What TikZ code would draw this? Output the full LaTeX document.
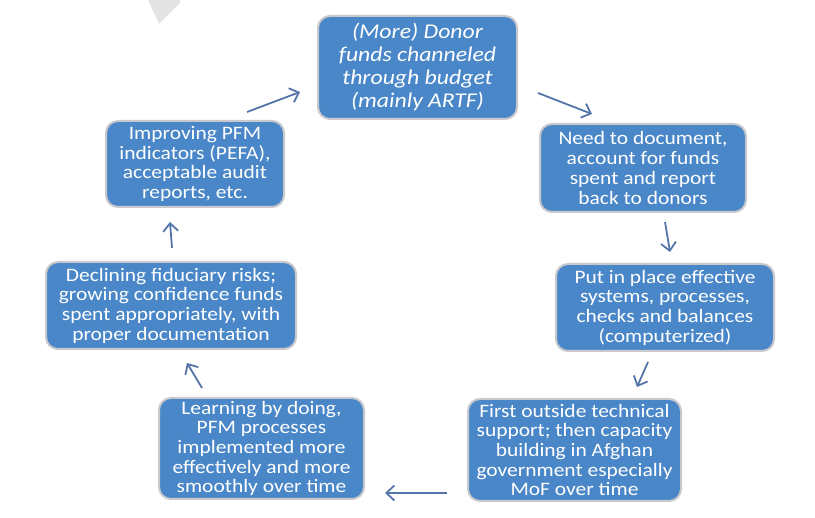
\documentclass[tikz,border=0pt]{standalone}
\usepackage{fontspec}
\setmainfont{Carlito}[FakeStretch=1.13]
\usetikzlibrary{calc,arrows.meta}
\definecolor{boxblue}{RGB}{74,135,200}
\definecolor{boxedge}{RGB}{200,200,205}
\definecolor{arrblue}{RGB}{84,116,170}
\definecolor{wmark}{RGB}{228,228,228}
\tikzset{
  cyclebox/.style={draw=boxedge, line width=2pt, fill=boxblue, rounded corners=12pt,
    text=white, align=center, inner sep=0pt,
    font=\fontsize{19}{19.7}\selectfont},
  topbox/.style={cyclebox, font=\fontsize{21}{23}\selectfont\itshape},
  arr/.style={draw=arrblue, line width=1.8pt, -{Straight Barb[length=8pt,width=15pt,line width=1.8pt]}}
}
\begin{document}
\begin{tikzpicture}[x=1pt,y=-1pt]
\useasboundingbox (0,0) rectangle (815,518);
\fill[wmark] (148,0) -- (180,0) -- (180,3) -- (159,24) -- cycle;

\node[topbox, minimum width=199pt, minimum height=103pt] (top) at (417.5,67.5)
  {(More) Donor\\funds channeled\\through budget\\(mainly ARTF)};
\node[cyclebox, minimum width=206pt, minimum height=88pt] (need) at (643,168)
  {Need to document,\\account for funds\\spent and report\\back to donors};
\node[cyclebox, minimum width=218pt, minimum height=87pt] (put) at (665,307.5)
  {Put in place effective\\systems, processes,\\checks and balances\\(computerized)};
\node[cyclebox, minimum width=213pt, minimum height=102pt] (first) at (574.5,450)
  {First outside technical\\support; then capacity\\building in Afghan\\government especially\\MoF over time};
\node[cyclebox, minimum width=205pt, minimum height=101pt] (learn) at (261.5,448.5)
  {Learning by doing,\\PFM processes\\implemented more\\effectively and more\\smoothly over time};
\node[cyclebox, minimum width=250pt, minimum height=87pt] (decl) at (171,305.5)
  {Declining fiduciary risks;\\growing confidence funds\\spent appropriately, with\\proper documentation};
\node[cyclebox, minimum width=178pt, minimum height=86pt] (imp) at (195,164)
  {Improving PFM\\indicators (PEFA),\\acceptable audit\\reports, etc.};

\draw[arr] ($(imp.north)+(52,-8)$) -- ($(top.west)+(-17,24.5)$);
\draw[arr] ($(top.east)+(20,25.5)$) -- ($(need.north)+(-51,-9)$);
\draw[arr] ($(need.south)+(22,9)$) -- ($(put.north)+(5,-11)$);
\draw[arr] ($(put.south)+(-17,10)$) -- ($(first.north)+(62.5,-11)$);
\draw[arr] ($(first.west)+(-20,43)$) -- ($(learn.east)+(20,44.5)$);
\draw[arr] ($(learn.north)+(-59.5,-9)$) -- ($(decl.south)+(16,13)$);
\draw[arr] ($(decl.north)+(1,-13)$) -- ($(imp.south)+(-25,14)$);
\end{tikzpicture}
\end{document}
